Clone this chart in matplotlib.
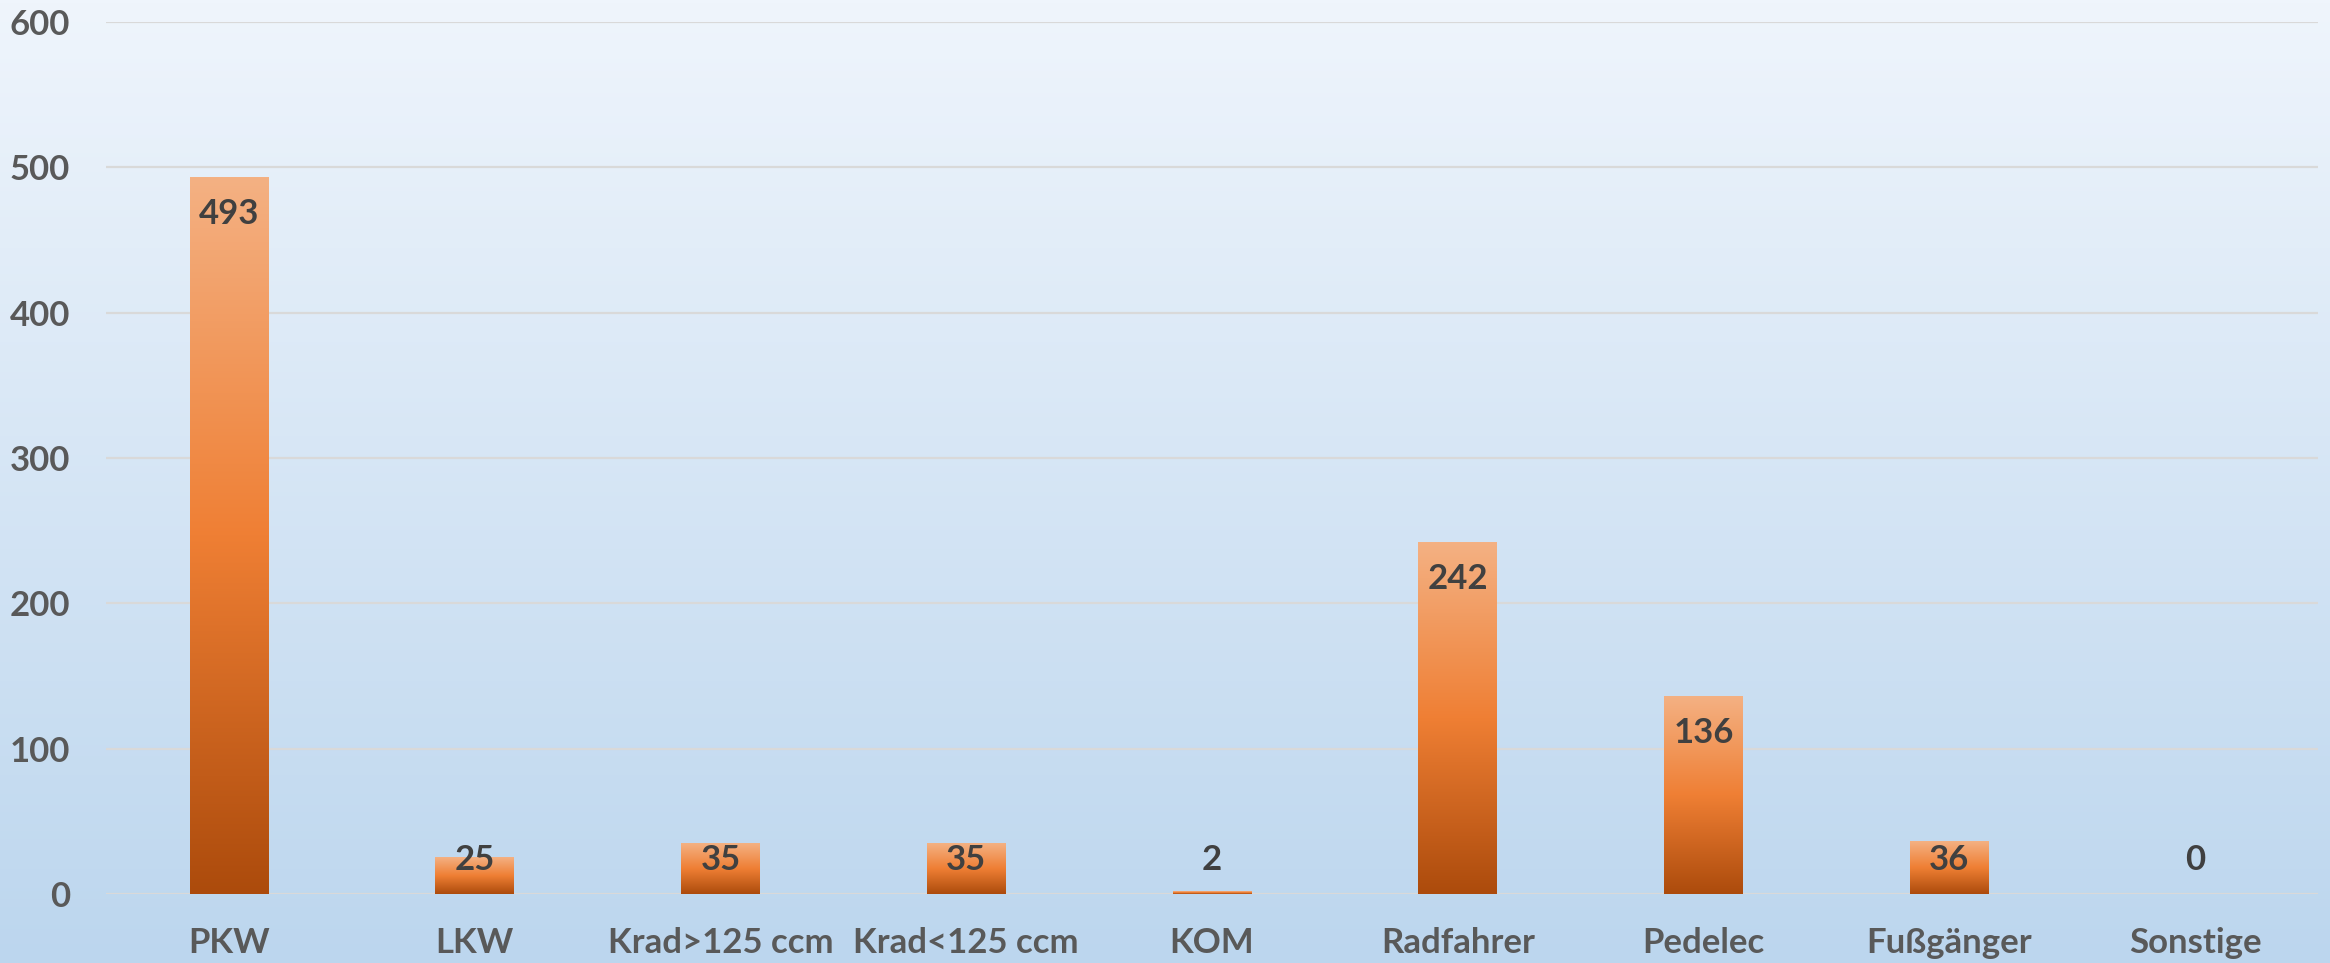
import numpy as np
import matplotlib.pyplot as plt
from matplotlib.colors import LinearSegmentedColormap

# Verkehrsbeteiligung - values
categories = ["PKW", "LKW", "Krad>125 ccm", "Krad<125 ccm", "KOM",
              "Radfahrer", "Pedelec", "Fußgänger", "Sonstige"]
values = [493, 25, 35, 35, 2, 242, 136, 36, 0]
yticks = [0, 100, 200, 300, 400, 500, 600]

plt.rcParams['font.family'] = ['Lato', 'DejaVu Sans']

fig = plt.figure(figsize=(23.3, 9.63), dpi=100)

# background gradient over the whole figure
bg_cmap = LinearSegmentedColormap.from_list("bg", ["#BCD6EE", "#EFF5FC"])
bg = fig.add_axes([0, 0, 1, 1], zorder=0)
bg.imshow(np.linspace(0, 1, 256).reshape(-1, 1), cmap=bg_cmap, aspect="auto",
          origin="lower", extent=[0, 1, 0, 1])
bg.axis("off")

ax = fig.add_axes([0.0455, 0.0717, 0.9493, 0.9055], zorder=1)
ax.patch.set_alpha(0)

x = np.arange(len(categories))
bars = ax.bar(x, values, width=0.32, color="none", edgecolor="none", zorder=3)

# orange gradient inside every bar (dark at bottom, light at top)
bar_cmap = LinearSegmentedColormap.from_list(
    "bar", [(0.0, "#AC4B0C"), (0.5, "#EF7F34"), (1.0, "#F4B183")])
grad = np.linspace(0, 1, 256).reshape(-1, 1)
for b, v in zip(bars, values):
    if v <= 0:
        continue
    h = max(v, 1.2)
    ax.imshow(grad, cmap=bar_cmap, aspect="auto", origin="lower",
              extent=[b.get_x(), b.get_x() + b.get_width(), 0, h], zorder=3)

# data labels: inside the top of the bar, clamped near the baseline for small bars
for xi, v in zip(x, values):
    ax.text(xi, max(v - 25, 23.5), str(v), ha="center", va="center",
            fontsize=25, fontweight="bold", color="#404040", zorder=4)

ax.set_xlim(-0.5, len(categories) - 0.5)
ax.set_ylim(0, 600)
ax.set_yticks(yticks)
ax.set_xticks(x)
ax.set_xticklabels(categories)
ax.yaxis.grid(True, color="#D9D9D9", linewidth=1.6, zorder=0)
ax.set_axisbelow(True)
for s in ax.spines.values():
    s.set_visible(False)
ax.tick_params(axis="both", length=0, labelsize=25, labelcolor="#595959")
ax.tick_params(axis="y", pad=26)
ax.tick_params(axis="x", pad=24)
for lab in ax.get_xticklabels() + ax.get_yticklabels():
    lab.set_fontweight("bold")

fig.savefig("out.png", dpi=100)
